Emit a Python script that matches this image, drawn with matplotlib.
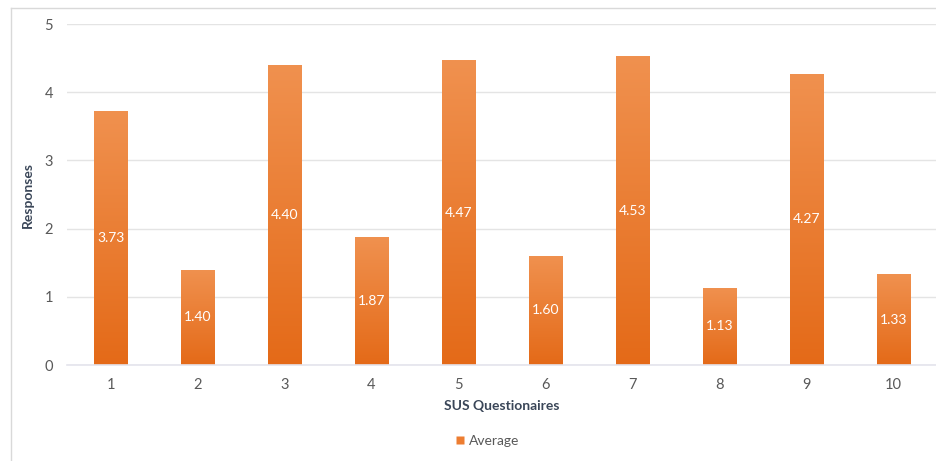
import numpy as np
import matplotlib.pyplot as plt
from matplotlib.colors import LinearSegmentedColormap
from matplotlib.lines import Line2D

# Datos del gráfico
preguntas = ['1', '2', '3', '4', '5', '6', '7', '8', '9', '10']
promedios = [3.73, 1.40, 4.40, 1.87, 4.47, 1.60, 4.53, 1.13, 4.27, 1.33]

plt.rcParams['font.family'] = ['Lato', 'DejaVu Sans']

fig = plt.figure(figsize=(9.36, 4.61), dpi=100)
W, H = 936, 461
ax = fig.add_axes([67 / W, 1 - 365 / H, 870 / W, 341 / H])

x = np.arange(len(preguntas))
barras = ax.bar(x, promedios, width=0.39, color='#ED7D31', edgecolor='#F8CBAD',
                linewidth=0.6, zorder=2)

# Degradado vertical en cada barra
cmap = LinearSegmentedColormap.from_list('naranja', ['#E46A18', '#F0914F'])
grad = np.linspace(0, 1, 256).reshape(-1, 1)
for b in barras:
    x0, w, h = b.get_x(), b.get_width(), b.get_height()
    im = ax.imshow(grad, cmap=cmap, origin='lower', aspect='auto',
                   extent=[x0, x0 + w, 0, h], zorder=2.5)
    im.set_clip_path(b)

for xi, v in zip(x, promedios):
    ax.text(xi, v / 2, f'{v:.2f}', ha='center', va='center', color='white',
            fontsize=10, zorder=3)

ax.set_xlim(-0.5, len(preguntas) - 0.5)
ax.set_ylim(0, 5)
ax.set_xticks(x)
ax.set_xticklabels(preguntas)
ax.set_yticks(range(6))
ax.yaxis.grid(True, color='#E4E4E4', linewidth=1, zorder=0)
ax.set_axisbelow(True)
for s in ['top', 'right', 'left']:
    ax.spines[s].set_visible(False)
ax.spines['bottom'].set_color('#E4E4EC')
ax.spines['bottom'].set_linewidth(1.2)
ax.tick_params(axis='both', length=0, colors='#595959', labelsize=10.5)
ax.tick_params(axis='x', pad=9)
ax.tick_params(axis='y', pad=10)

ax.set_xlabel('SUS Questionaires', fontsize=10, fontweight='bold', color='#3A4658', labelpad=6)
ax.set_ylabel('Responses', fontsize=10, fontweight='bold', color='#3A4658')
ax.yaxis.set_label_coords(-33 / 870, 0.5)

leyenda = [Line2D([0], [0], marker='s', color='none', markerfacecolor='#ED7D31',
                  markeredgecolor='none', markersize=6, label='Average')]
fig.legend(handles=leyenda, loc='center', bbox_to_anchor=(487 / W, 1 - 441 / H),
           frameon=False, fontsize=10, labelcolor='#595959', handletextpad=0.2,
           handlelength=0.8)

# Borde del gráfico
fig.add_artist(Line2D([10.5 / W, 10.5 / W], [0, 1 - 8 / H], color='#D9D9D9', lw=1))
fig.add_artist(Line2D([10.5 / W, 1], [1 - 8 / H, 1 - 8 / H], color='#D9D9D9', lw=1))

fig.savefig('out.png', dpi=100)
